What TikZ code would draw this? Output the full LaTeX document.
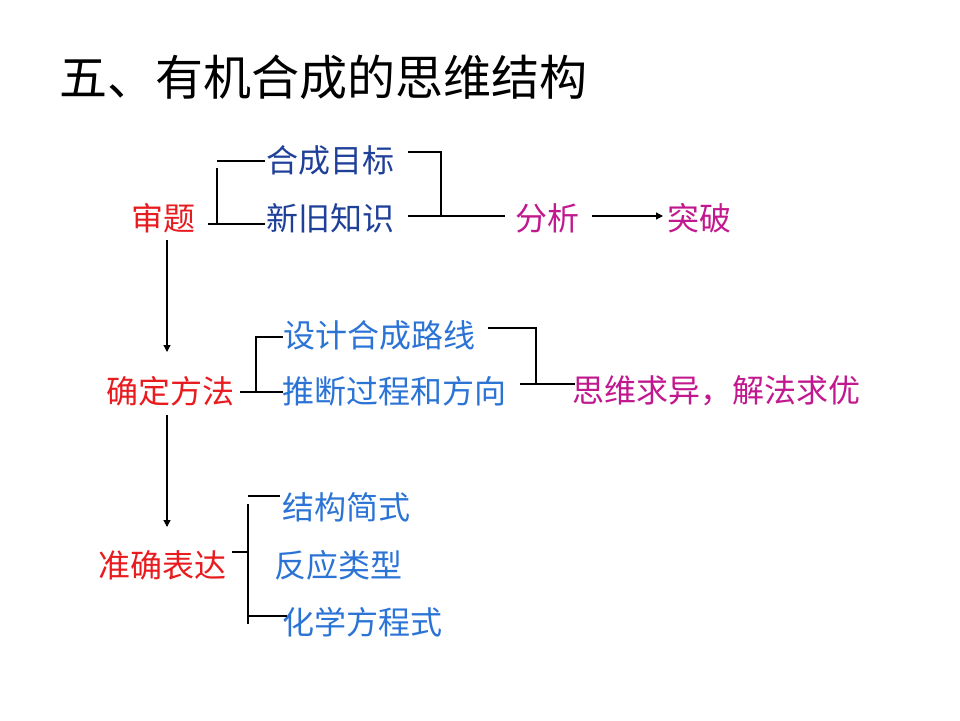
\documentclass[tikz,border=0pt]{standalone}
\usepackage{fontspec}
\newfontfamily\cjk{Noto Sans CJK SC}
\usetikzlibrary{arrows.meta}
\definecolor{cred}{HTML}{E81B1F}
\definecolor{cdblue}{HTML}{1F4099}
\definecolor{clblue}{HTML}{2B74D6}
\definecolor{cmag}{HTML}{C2188F}
\tikzset{
  lbl/.style={inner sep=0pt, font=\cjk\fontsize{32}{38}\selectfont},
  ttl/.style={inner sep=0pt, font=\cjk\fontsize{48}{56}\selectfont, text=black},
  conn/.style={draw=black, line width=1.2pt},
  arr/.style={conn, -{Triangle[length=7pt,width=7pt]}},
}
\begin{document}
\begin{tikzpicture}[x=1pt,y=-1pt]
\useasboundingbox[fill=white] (0,0) rectangle (960,720);
% title
\node[ttl] (title) at (323,77) {五、有机合成的思维结构};
% row 1
\node[lbl, text=cred] (shenti) at (163,218) {审题};
\node[lbl, text=cdblue] (mubiao) at (330,160) {合成目标};
\node[lbl, text=cdblue] (zhishi) at (330,218) {新旧知识};
\node[lbl, text=cmag] (fenxi) at (547,218) {分析};
\node[lbl, text=cmag] (tupo) at (699,218) {突破};
% row 2
\node[lbl, text=cred] (fangfa) at (170,391) {确定方法};
\node[lbl, text=clblue] (luxian) at (379,335) {设计合成路线};
\node[lbl, text=clblue] (tuiduan) at (394,391) {推断过程和方向};
\node[lbl, text=cmag] (siwei) at (716,391) {思维求异，解法求优};
% row 3
\node[lbl, text=cred] (biaoda) at (162,565) {准确表达};
\node[lbl, text=clblue] (jiegou) at (346,507) {结构简式};
\node[lbl, text=clblue] (leixing) at (338,565) {反应类型};
\node[lbl, text=clblue] (fangcheng) at (362,622) {化学方程式};
% connector points, group 1
\coordinate (A0) at (208,224);
\coordinate (A1) at (265,224);
\coordinate (A2) at (217,224);
\coordinate (A3) at (217,168);
\coordinate (A4) at (217,161);
\coordinate (A5) at (265,161);
\draw[conn] (A0) -- (A1);
\draw[conn] (A2) -- (A3);
\draw[conn] (A4) -- (A5);
\coordinate (B0) at (408,152);
\coordinate (B1) at (441,152);
\coordinate (B2) at (441,216);
\coordinate (B3) at (408,216);
\coordinate (B4) at (505,216);
\draw[conn] (B0) -- (B1) -- (B2);
\draw[conn] (B3) -- (B4);
\coordinate (C0) at (592,216);
\coordinate (C1) at (663,216);
\draw[arr] (C0) -- (C1);
% vertical arrows
\coordinate (D0) at (167,240);
\coordinate (D1) at (167,352);
\draw[arr] (D0) -- (D1);
\coordinate (E0) at (167,415);
\coordinate (E1) at (167,527);
\draw[arr] (E0) -- (E1);
% group 2
\coordinate (F0) at (240,392);
\coordinate (F1) at (283,392);
\coordinate (F2) at (256,392);
\coordinate (F3) at (256,337);
\coordinate (F4) at (283,337);
\draw[conn] (F0) -- (F1);
\draw[conn] (F2) -- (F3) -- (F4);
\coordinate (G0) at (488,328);
\coordinate (G1) at (536,328);
\coordinate (G2) at (536,384);
\coordinate (G3) at (520,384);
\coordinate (G4) at (575,384);
\draw[conn] (G0) -- (G1) -- (G2);
\draw[conn] (G3) -- (G4);
% group 3
\coordinate (H0) at (232,552);
\coordinate (H1) at (248,552);
\coordinate (H2) at (248,504);
\coordinate (H3) at (248,624);
\coordinate (H4) at (248,496);
\coordinate (H5) at (280,496);
\coordinate (H6) at (248,616);
\coordinate (H7) at (287,616);
\draw[conn] (H0) -- (H1);
\draw[conn] (H2) -- (H3);
\draw[conn] (H4) -- (H5);
\draw[conn] (H6) -- (H7);
\end{tikzpicture}
\end{document}
